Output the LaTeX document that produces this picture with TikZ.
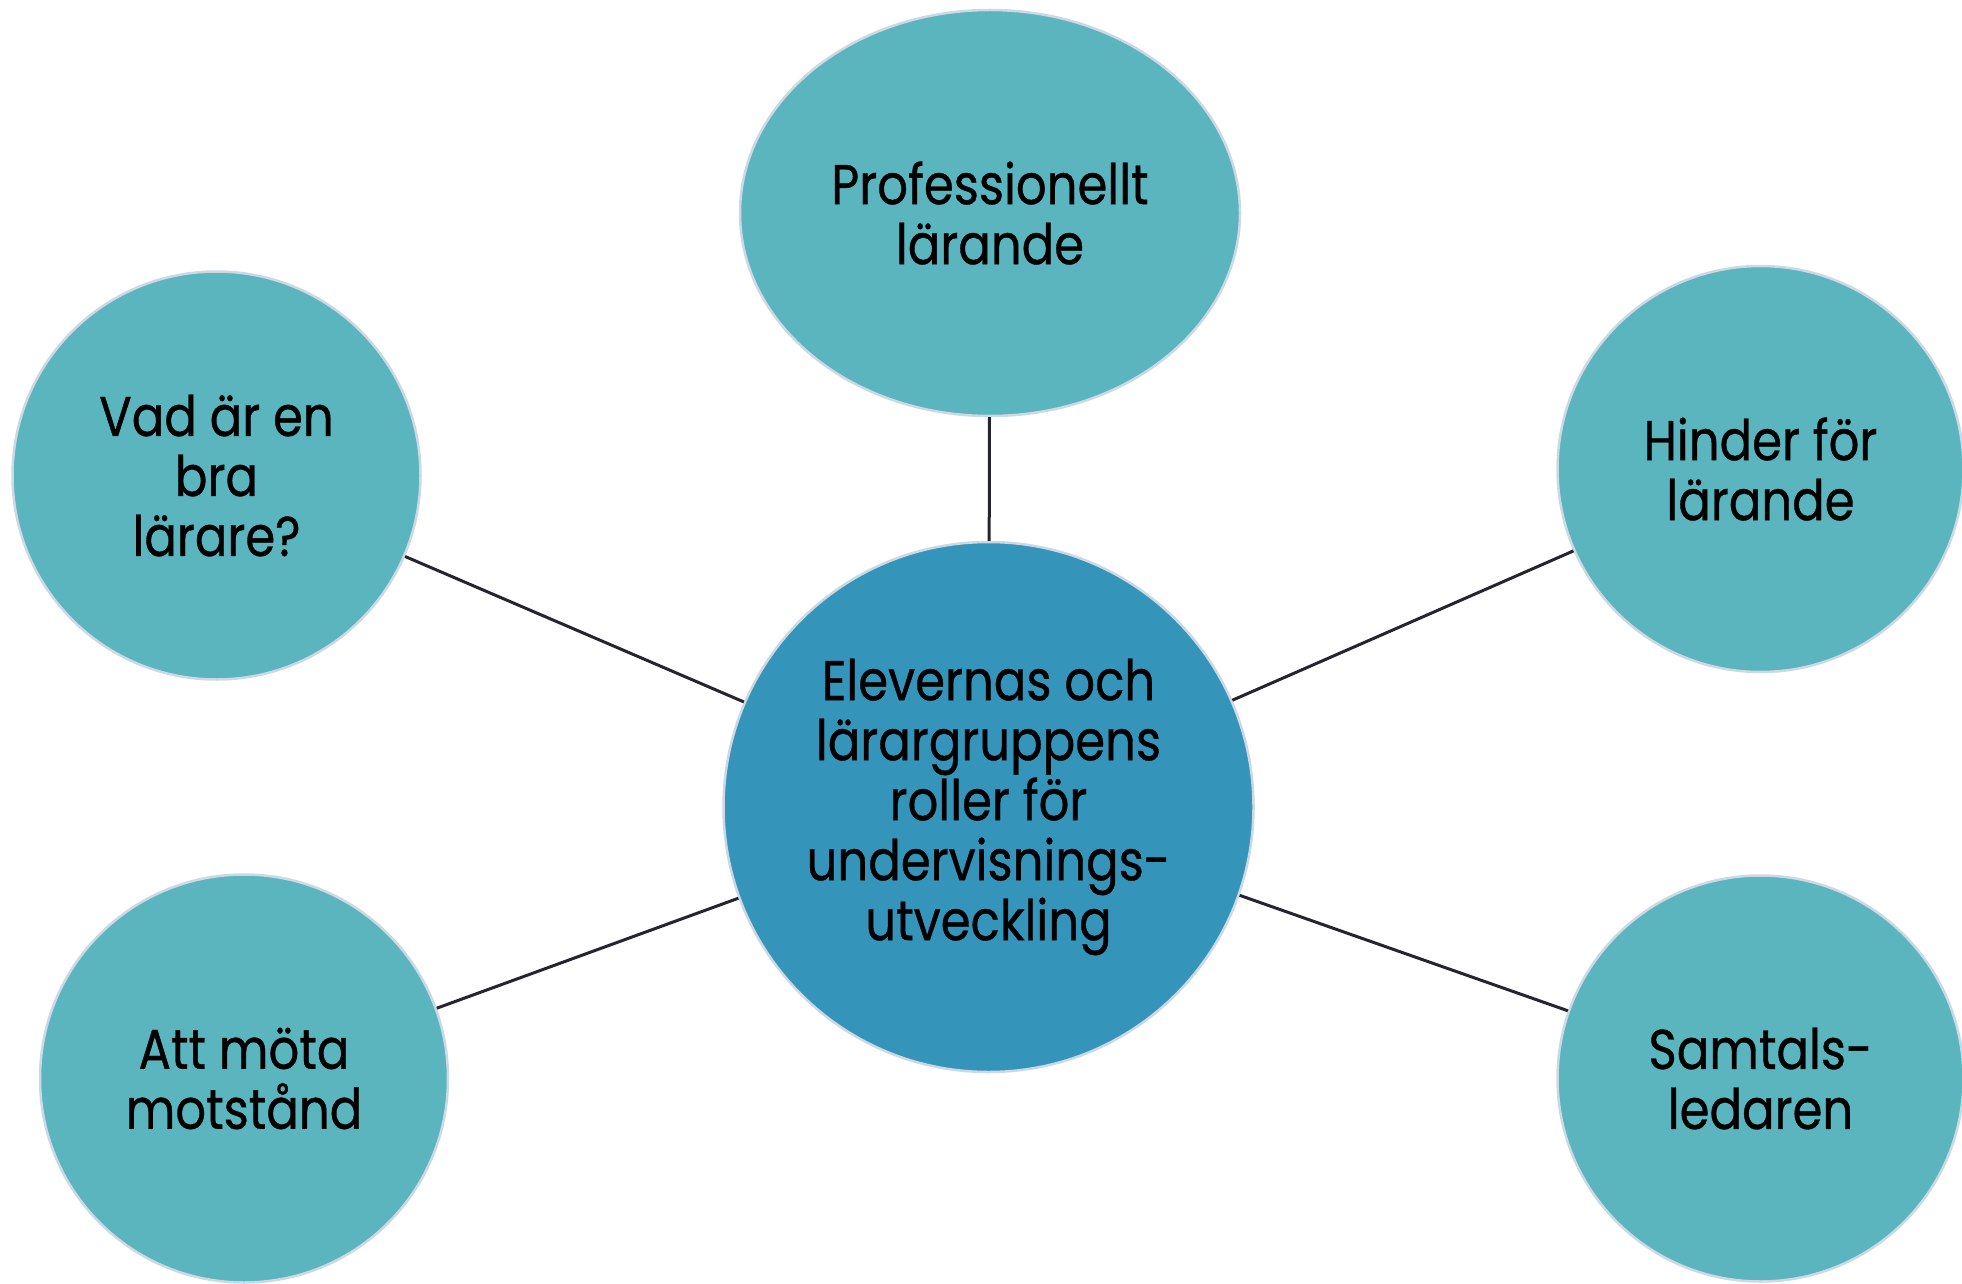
\documentclass[tikz,border=0pt]{standalone}
\usepackage{fontspec}
\setmainfont{Poppins}
\newfontfamily\bubfont{Poppins}[FakeStretch=0.86,FakeBold=0.6]
\usetikzlibrary{shapes.geometric}
\definecolor{outerfill}{HTML}{5AB5BF}
\definecolor{centerfill}{HTML}{3594BA}
\definecolor{rimcol}{HTML}{CCD8E4}
\definecolor{linkcol}{HTML}{26252F}
\tikzset{
  bub/.style={circle, draw=rimcol, line width=2.5pt, fill=outerfill, inner sep=0pt,
    align=center, text=black, font=\bubfont\fontsize{56}{60}\selectfont},
  hub/.style={bub, fill=centerfill},
  link/.style={draw=linkcol, line width=3pt}
}
\begin{document}
\begin{tikzpicture}[x=1pt,y=-1pt]
\useasboundingbox (0,0) rectangle (1962,1284);
\node[hub, minimum size=530pt] (c) at (988.5,807) {Elevernas och\\lärargruppens\\roller för\\undervisnings-\\utveckling};
\node[bub, ellipse, minimum width=500pt, minimum height=406pt] (t) at (990,213) {Professionellt\\lärande};
\node[bub, minimum size=408pt] (lu) at (216.5,475.5) {Vad är en\\bra\\lärare?};
\node[bub, minimum size=406pt] (ru) at (1760.5,469) {Hinder för\\lärande};
\node[bub, minimum size=408pt] (ll) at (244,1078.5) {Att möta\\motstånd};
\node[bub, minimum size=406pt] (rl) at (1760.5,1078.5) {Samtals-\\ledaren};
\draw[link] (c) -- (t);
\draw[link] (c) -- (lu);
\draw[link] (c) -- (ru);
\draw[link] (c) -- (ll);
\draw[link] (c) -- (rl);
\end{tikzpicture}
\end{document}
